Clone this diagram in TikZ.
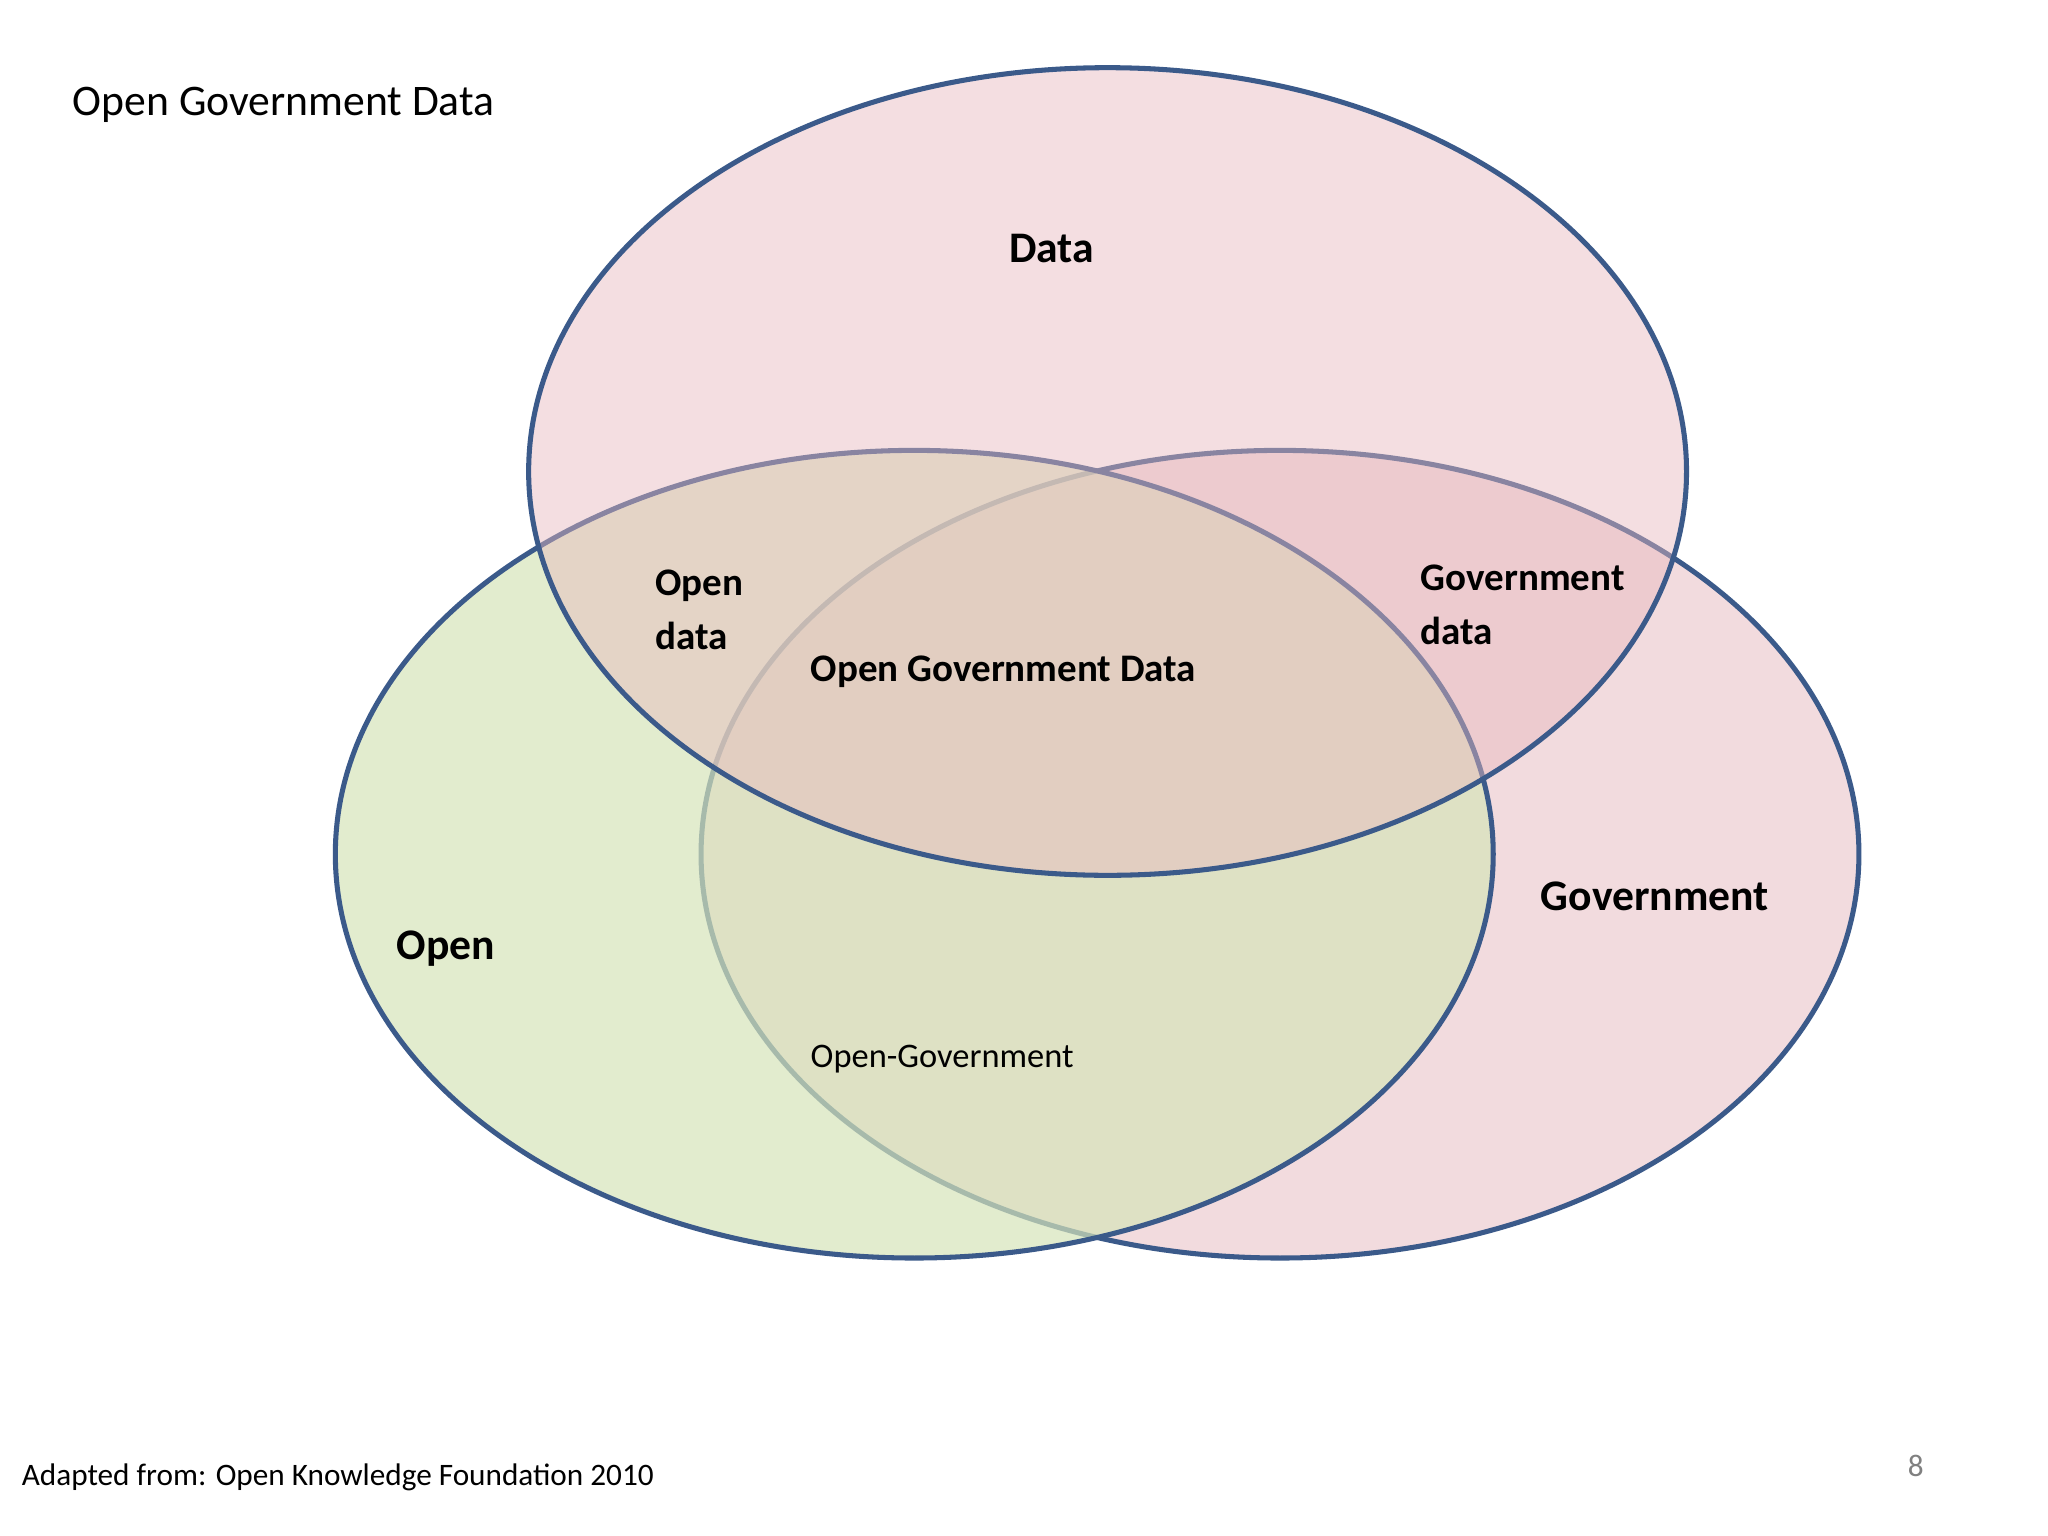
\documentclass[tikz,border=0pt]{standalone}
\usepackage{fontspec}
\setmainfont{Carlito}
\begin{document}
\begin{tikzpicture}[x=0.01cm,y=-0.01cm,
  setc/.style={draw=blue!40!black!80!cyan, line width=1.1pt},
  lbl/.style={font=\fontsize{9.5pt}{11pt}\selectfont\bfseries, align=left, anchor=west, inner sep=0pt},
  small/.style={font=\fontsize{7.5pt}{9pt}\selectfont, anchor=west, inner sep=0pt}]
\definecolor{edge}{HTML}{3B5A8A}
\tikzset{setc/.style={draw=edge, line width=1.1pt}}
\useasboundingbox (0,0) rectangle (1568,1176);
\fill[white] (0,0) rectangle (1568,1176);
\path[setc, fill={rgb,255:red,230;green,185;blue,190}, fill opacity=0.5] (980,654) ellipse [x radius=4.43cm, y radius=3.09cm];
\path[setc, fill={rgb,255:red,214;green,228;blue,186}, fill opacity=0.7] (700,654) ellipse [x radius=4.43cm, y radius=3.09cm];
\path[setc, fill={rgb,255:red,232;green,184;blue,190}, fill opacity=0.45] (848,361) ellipse [x radius=4.43cm, y radius=3.09cm];
\node[inner sep=0pt, anchor=west, font=\fontsize{9.5pt}{11pt}\selectfont] (title) at (55,80) {Open Government Data};
\node[lbl] (data) at (772,190) {Data};
\node[lbl] (open) at (303,726) {Open};
\node[lbl] (gov) at (1179,686) {Government};
\node[lbl, font=\fontsize{8.5pt}{11.8pt}\selectfont\bfseries] (od) at (501,467) {Open\\data};
\node[lbl, font=\fontsize{8.5pt}{11.8pt}\selectfont\bfseries] (gd) at (1087,463) {Government\\data};
\node[lbl, font=\fontsize{8.5pt}{10pt}\selectfont\bfseries] (ogd) at (620,514) {Open Government Data};
\node[small] (og) at (620,811) {Open-Government};
\node[small, font=\fontsize{6.8pt}{8pt}\selectfont] (foot) at (16,1131) {Adapted from: Open Knowledge Foundation 2010};
\node[small, font=\fontsize{6.8pt}{8pt}\selectfont, text=gray] (pg) at (1460,1122) {8};
\end{tikzpicture}
\end{document}
